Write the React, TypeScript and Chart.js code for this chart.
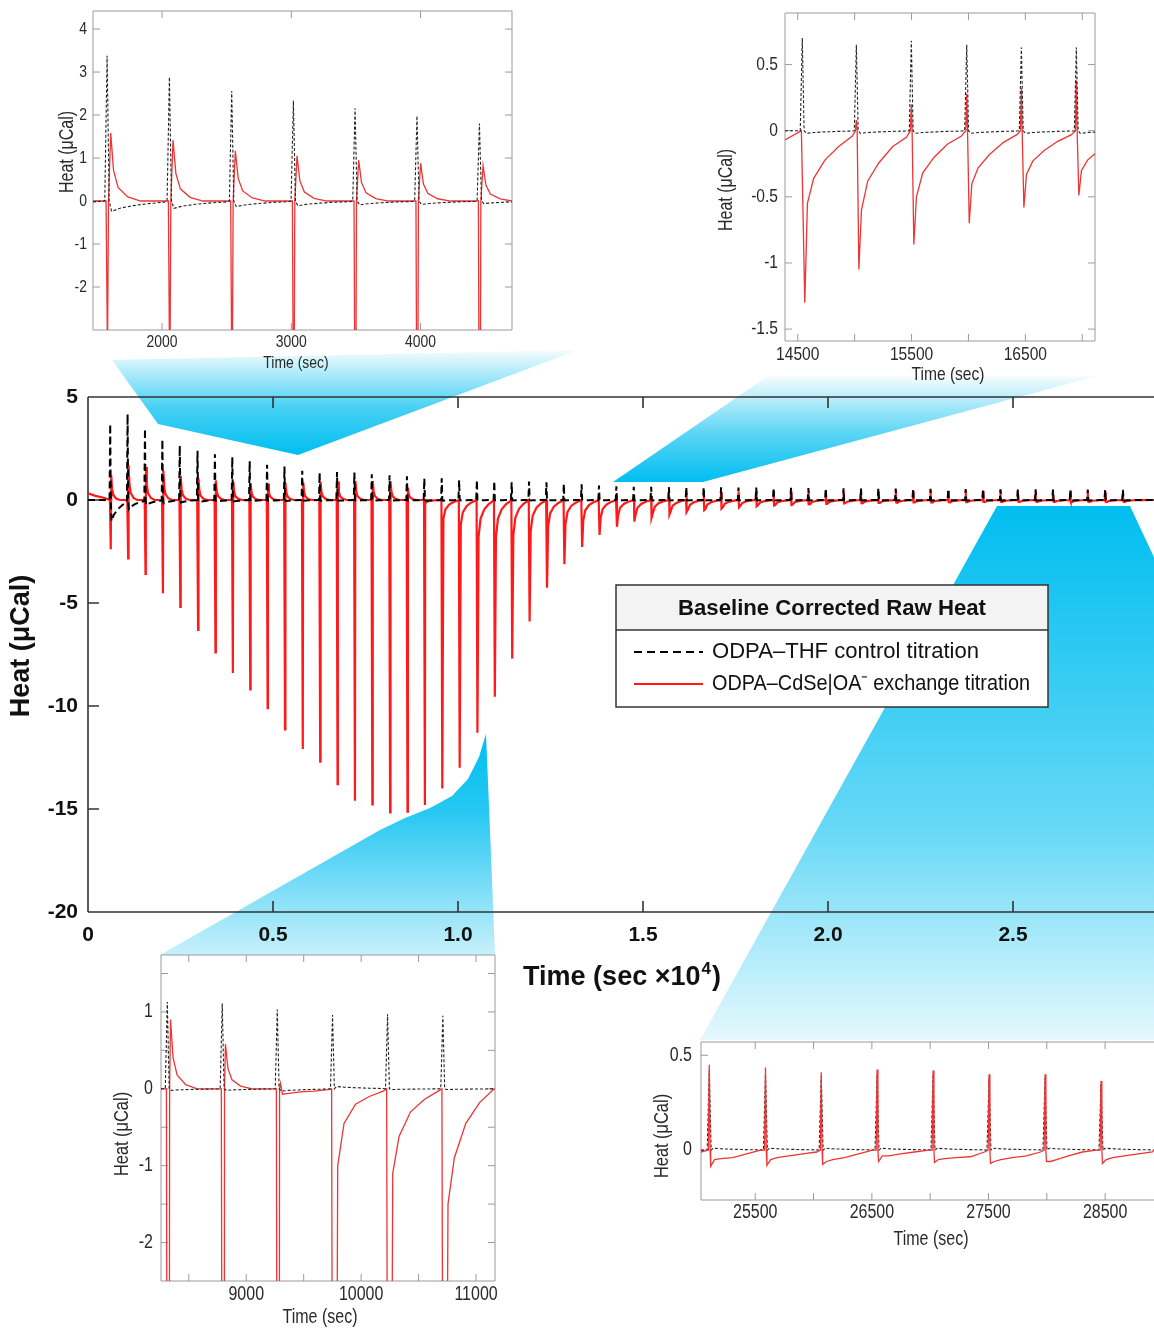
import React, { useEffect, useRef } from "react";
import { Chart, registerables } from "chart.js";

Chart.register(...registerables);

// ================= MAIN CHART DATA (time in sec x10^4, heat in µCal) =================
const MAIN_INJ_T = [
  0.060, 0.107, 0.154, 0.201, 0.248, 0.296, 0.343, 0.390, 0.437, 0.484,
  0.531, 0.579, 0.626, 0.673, 0.720, 0.767, 0.815, 0.862, 0.909, 0.956,
  1.003, 1.051, 1.098, 1.145, 1.192, 1.239, 1.286, 1.334, 1.381, 1.428,
  1.475, 1.522, 1.570, 1.617, 1.664, 1.711, 1.758, 1.806, 1.853, 1.900,
  1.947, 1.994, 2.042, 2.089, 2.136, 2.183, 2.230, 2.277, 2.325, 2.372,
  2.419, 2.466, 2.513, 2.561, 2.608, 2.655, 2.702, 2.749, 2.797,
];
const MAIN_BLACK_PEAK = [
  3.69, 4.17, 3.46, 2.94, 2.64, 2.39, 2.22, 2.09, 1.89, 1.71,
  1.62, 1.42, 1.33, 1.36, 1.33, 1.25, 1.20, 1.15, 1.05, 1.05,
  0.96, 0.97, 0.92, 0.86, 0.90, 0.86, 0.79, 0.76, 0.70, 0.66,
  0.64, 0.64, 0.63, 0.63, 0.62, 0.62, 0.61, 0.60, 0.60, 0.59,
  0.58, 0.57, 0.57, 0.56, 0.56, 0.55, 0.55, 0.54, 0.54, 0.53,
  0.53, 0.52, 0.52, 0.52, 0.51, 0.51, 0.51, 0.50, 0.49,
];
const MAIN_BLACK_DIP = [
  -1.02, -0.45, -0.25, -0.16, -0.12, -0.10, -0.08, -0.07, -0.06, -0.05,
  -0.05, -0.04, -0.04, -0.04, -0.04, -0.03, -0.03, -0.03, -0.03, -0.03,
  -0.02, -0.02, -0.02, -0.02, -0.02, -0.02, -0.02, -0.02, -0.02, -0.02,
  -0.02, -0.02, -0.02, -0.02, -0.02, -0.02, -0.02, -0.02, -0.02, -0.02,
  -0.02, -0.02, -0.02, -0.02, -0.02, -0.02, -0.02, -0.02, -0.02, -0.02,
  -0.02, -0.02, -0.02, -0.02, -0.02, -0.02, -0.02, -0.02, -0.02,
];
const MAIN_RED_TROUGH = [
  -2.39, -2.83, -3.59, -4.53, -5.19, -6.30, -7.40, -8.40, -9.20, -10.10,
  -11.13, -12.09, -12.70, -13.79, -14.60, -14.78, -15.17, -15.13, -14.81, -14.00,
  -13.00, -11.30, -9.55, -7.70, -5.90, -4.26, -3.12, -2.28, -1.70, -1.30,
  -1.05, -0.86, -0.70, -0.58, -0.49, -0.42, -0.36, -0.31, -0.27, -0.24,
  -0.21, -0.19, -0.17, -0.15, -0.14, -0.13, -0.12, -0.11, -0.10, -0.10,
  -0.09, -0.09, -0.08, -0.08, -0.08, -0.08, -0.08, -0.08, -0.08,
];
const MAIN_RED_LOBE = [
  1.20, 1.70, 1.60, 1.42, 1.17, 1.05, 0.95, 0.88, 0.82, 0.80,
  0.82, 0.85, 0.88, 0.90, 0.92, 0.92, 0.90, 0.60, 0.05, 0,
  0, 0, 0, 0, 0, 0, 0, 0, 0, 0,
  0, 0, 0, 0, 0, 0, 0, 0, 0, 0,
  0, 0, 0, 0, 0, 0, 0, 0, 0, 0,
  0, 0, 0, 0, 0, 0, 0, 0, 0,
];
const MAIN_RED_SPIKE = [
  0, 0, 0, 0, 0, 0, 0, 0, 0, 0,
  0, 0, 0, 0, 0, 0, 0, 0, 0, 0,
  0, 0, 0, 0, 0, 0, 0, 0, 0, 0,
  0.08, 0.20, 0.28, 0.32, 0.38, 0.40, 0.42, 0.43, 0.44, 0.44,
  0.44, 0.45, 0.45, 0.45, 0.45, 0.45, 0.44, 0.44, 0.44, 0.44,
  0.45, 0.45, 0.44, 0.43, 0.42, 0.42, 0.40, 0.40, 0.36,
];
// slow recovery of the exchange heat, value ~100 s after each injection
const MAIN_RED_TAIL = [
  0, 0, 0, 0, 0, 0, 0, 0, 0, 0,
  0, 0, 0, 0, 0, 0, 0, 0, -0.06, -0.45,
  -0.60, -0.90, -0.90, -0.85, -0.75, -0.65, -0.58, -0.50, -0.44, -0.38,
  -0.38, -0.32, -0.28, -0.23, -0.22, -0.18, -0.15, -0.13, -0.12, -0.11,
  -0.10, -0.09, -0.08, -0.08, -0.07, -0.07, -0.06, -0.06, -0.06, -0.05,
  -0.05, -0.05, -0.05, -0.05, -0.05, -0.05, -0.05, -0.05, -0.05,
];
const MAIN_RED_LEAD_T = [0, 0.02, 0.045];
const MAIN_RED_LEAD_V = [0.32, 0.2, 0.1];
const MAIN_X_MIN = 0;
const MAIN_X_MAX = 2.881;
const MAIN_Y_MIN = -20;
const MAIN_Y_MAX = 5;
const MAIN_X_TICKS = [0, 0.5, 1, 1.5, 2, 2.5];
const MAIN_X_LABELS = ["0", "0.5", "1.0", "1.5", "2.0", "2.5"];
const MAIN_Y_TICKS = [-20, -15, -10, -5, 0, 5];
const MAIN_Y_LABELS = ["-20", "-15", "-10", "-5", "0", "5"];

// shape of one injection (seconds after injection, relative amount)
const BLACK_DIP_SEC = [35, 100, 200, 320, 440];
const BLACK_DIP_FRAC = [1, 0.7, 0.45, 0.25, 0.12];
const RED_LOBE_SEC = [28, 50, 85, 160, 260];
const RED_LOBE_FRAC = [1, 0.45, 0.2, 0.06, 0];
const TAIL_SEC = [45, 100, 200, 320, 440];
const TAIL_FRAC = [2.0, 1, 0.5, 0.22, 0.05];

// ================= INSET: 1500-4700 s =================
const TL_X = [1466, 4707];
const TL_Y = [-3, 4.42];
const TL_T = [1575, 2057, 2539, 3016, 3493, 3972, 4455];
const TL_BLACK_PEAK = [3.38, 2.88, 2.56, 2.33, 2.16, 1.98, 1.8];
const TL_BLACK_DIP = [-0.24, -0.17, -0.13, -0.11, -0.09, -0.08, -0.06];
const TL_RED_TROUGH = [-3.59, -4.53, -5.19, -6.3, -7.4, -8.4, -9.2];
const TL_RED_LOBE = [1.58, 1.42, 1.17, 1.05, 0.95, 0.88, 0.82];
const TL_X_TICKS = [2000, 3000, 4000];
const TL_X_LABELS = ["2000", "3000", "4000"];
const TL_Y_TICKS = [-2, -1, 0, 1, 2, 3, 4];
const TL_Y_LABELS = ["-2", "-1", "0", "1", "2", "3", "4"];

// ================= INSET: 14400-17100 s =================
const TR_X = [14388, 17112];
const TR_Y = [-1.59, 0.89];
const TR_T = [14540, 15015, 15498, 15985, 16465, 16948];
const TR_BLACK_PEAK = [0.7, 0.65, 0.68, 0.65, 0.63, 0.63];
const TR_BLACK_DIP = [-0.02, -0.02, -0.02, -0.02, -0.02, -0.02];
const TR_RED_SPIKE = [0.0, 0.08, 0.2, 0.28, 0.32, 0.38];
const TR_RED_TROUGH = [-1.3, -1.05, -0.86, -0.7, -0.58, -0.49];
const TR_RED_TAIL = [
  [-0.55, -0.36, -0.22, -0.12, -0.04],
  [-0.6, -0.38, -0.24, -0.12, -0.05],
  [-0.5, -0.32, -0.2, -0.1, -0.04],
  [-0.4, -0.28, -0.18, -0.09, -0.03],
  [-0.33, -0.23, -0.15, -0.08, -0.03],
  [-0.3, -0.22, -0.15, -0.08, -0.03],
];
const TR_X_TICKS = [14500, 15000, 15500, 16000, 16500, 17000];
const TR_X_LABELS = ["14500", "", "15500", "", "16500", ""];
const TR_Y_TICKS = [-1.5, -1, -0.5, 0, 0.5];
const TR_Y_LABELS = ["-1.5", "-1", "-0.5", "0", "0.5"];

// ================= INSET: 8300-11100 s =================
const BL_X = [8258, 11165];
const BL_Y = [-2.5, 1.74];
const BL_T = [8313, 8791, 9270, 9751, 10230, 10711];
const BL_BLACK_PEAK = [1.13, 1.11, 1.03, 0.96, 0.97, 0.95];
const BL_BLACK_DIP = [-0.02, -0.02, -0.03, 0.03, -0.01, -0.01];
const BL_RED_TROUGH = [-15.17, -15.13, -14.81, -14.0, -13.0, -11.3];
const BL_RED_LOBE = [0.9, 0.58, 0.07, 0, 0, 0];
const BL_RED_TAIL = [
  [],
  [],
  [-0.07, -0.06, -0.04, -0.03, -0.01],
  [-1.0, -0.45, -0.2, -0.1, -0.03],
  [-1.1, -0.62, -0.3, -0.14, -0.03],
  [-1.5, -0.9, -0.45, -0.18, -0.01],
];
const BL_X_TICKS = [8500, 9000, 9500, 10000, 10500, 11000];
const BL_X_LABELS = ["", "9000", "", "10000", "", "11000"];
const BL_Y_TICKS = [-2, -1.5, -1, -0.5, 0, 0.5, 1, 1.5];
const BL_Y_LABELS = ["-2", "", "-1", "", "0", "", "1", ""];

// ================= INSET: 25000-28900 s =================
const BR_X = [25035, 28919];
const BR_Y = [-0.263, 0.57];
const BR_T = [25106, 25588, 26066, 26545, 27025, 27505, 27985, 28465];
const BR_BLACK_PEAK = [0.42, 0.4, 0.39, 0.4, 0.4, 0.38, 0.38, 0.35];
const BR_BLACK_DIP = [0.01, 0.01, 0.01, 0.01, 0.01, 0.01, 0.01, 0.01];
const BR_RED_SPIKE = [0.45, 0.435, 0.41, 0.425, 0.42, 0.4, 0.4, 0.365];
const BR_RED_TROUGH = [-0.085, -0.08, -0.075, -0.06, -0.065, -0.07, -0.06, -0.07];
const BR_RED_TAIL = [
  [-0.05, -0.045, -0.04, -0.02, 0.0],
  [-0.05, -0.04, -0.03, -0.02, -0.01],
  [-0.06, -0.05, -0.04, -0.02, 0.0],
  [-0.03, -0.03, -0.02, -0.01, 0.0],
  [-0.05, -0.045, -0.04, -0.035, -0.01],
  [-0.06, -0.05, -0.04, -0.03, -0.01],
  [-0.06, -0.05, -0.03, -0.01, 0.0],
  [-0.05, -0.04, -0.03, -0.02, -0.01],
];
const BR_X_TICKS = [25500, 26000, 26500, 27000, 27500, 28000, 28500];
const BR_X_LABELS = ["25500", "", "26500", "", "27500", "", "28500"];
const BR_Y_TICKS = [0, 0.5];
const BR_Y_LABELS = ["0", "0.5"];

// ================= TEXT =================
const LEGEND_TITLE = "Baseline Corrected Raw Heat";
const SERIES_CONTROL = "ODPA\u2013THF control titration";
const SERIES_EXCHANGE = "ODPA\u2013CdSe|OA\u207B exchange titration";
const HEAT_LABEL = "Heat (\u03BCCal)";
const MAIN_TIME_LABEL = "Time (sec \u00D710\u2074)";
const MAIN_TIME_BASE = "Time (sec \u00D710";
const MAIN_TIME_EXP = "4";
const MAIN_TIME_CLOSE = ")";
const INSET_TIME_LABEL = "Time (sec)";

// ================= STYLE =================
const SANS = '"Liberation Sans", Arial, Helvetica, sans-serif';
const RED_MAIN = "#ff1a1a";
const RED_INSET = "rgb(238,52,52)";

type Pt = { x: number; y: number };

function buildBlack(times: number[], peaks: number[], dips: number[], unit: number, xMin: number, xMax: number, startY: number): Pt[] {
  const pts: Pt[] = [{ x: xMin, y: startY }];
  times.forEach((t, i) => {
    pts.push({ x: t - 18 / unit, y: 0 });
    pts.push({ x: t, y: peaks[i] });
    pts.push({ x: t + 16 / unit, y: 0 });
    BLACK_DIP_SEC.forEach((s, j) => pts.push({ x: t + s / unit, y: dips[i] * BLACK_DIP_FRAC[j] }));
  });
  pts.push({ x: xMax, y: 0 });
  return pts;
}

function buildRed(o: {
  times: number[]; trough: number[]; lobe?: number[]; spike?: number[]; tail?: number[][];
  unit: number; leadT: number[]; leadV: number[]; xMax: number; troughSec: number;
}): Pt[] {
  const { unit } = o;
  const pts: Pt[] = o.leadT.map((x, i) => ({ x, y: o.leadV[i] }));
  o.times.forEach((t, i) => {
    const sp = o.spike ? o.spike[i] : 0;
    const lb = o.lobe ? o.lobe[i] : 0;
    const tl = o.tail ? o.tail[i] : [];
    pts.push({ x: t - 8 / unit, y: 0 });
    if (sp > 0) {
      pts.push({ x: t, y: sp });
      pts.push({ x: t + 7 / unit, y: 0 });
    }
    pts.push({ x: t + o.troughSec / unit, y: o.trough[i] });
    if (lb > 0) {
      pts.push({ x: t + (o.troughSec + 8) / unit, y: 0 });
      RED_LOBE_SEC.forEach((s, j) => {
        if (!tl.length || s < TAIL_SEC[0]) pts.push({ x: t + s / unit, y: lb * RED_LOBE_FRAC[j] });
      });
    }
    if (tl.length) TAIL_SEC.forEach((s, j) => pts.push({ x: t + s / unit, y: tl[j] }));
    else if (lb <= 0) pts.push({ x: t + (o.troughSec + 10) / unit, y: 0 });
  });
  pts.push({ x: o.xMax, y: 0 });
  return pts;
}

function blackDs(data: Pt[], main: boolean) {
  return {
    label: SERIES_CONTROL,
    data,
    borderColor: main ? "#000000" : "#222222",
    borderWidth: main ? 2 : 1.1,
    borderDash: main ? [7, 4] : [3, 2],
    pointRadius: 0,
    fill: false,
    tension: 0,
    legendDash: [8, 5],
  };
}
function redDs(data: Pt[], main: boolean) {
  return {
    label: SERIES_EXCHANGE,
    data,
    borderColor: main ? RED_MAIN : RED_INSET,
    borderWidth: main ? 2.2 : 1.3,
    borderDash: [],
    pointRadius: 0,
    fill: false,
    tension: 0,
    legendDash: [],
  };
}

// ---------- datasets ----------
const mainBlack = buildBlack(MAIN_INJ_T, MAIN_BLACK_PEAK, MAIN_BLACK_DIP, 1e4, MAIN_X_MIN, MAIN_X_MAX, 0);
const mainRed = buildRed({
  times: MAIN_INJ_T, trough: MAIN_RED_TROUGH, lobe: MAIN_RED_LOBE, spike: MAIN_RED_SPIKE,
  tail: MAIN_RED_TAIL.map((v) => (v === 0 ? [] : TAIL_FRAC.map((f) => v * f))),
  unit: 1e4, leadT: MAIN_RED_LEAD_T, leadV: MAIN_RED_LEAD_V, xMax: MAIN_X_MAX, troughSec: 15,
});
const tlBlack = buildBlack(TL_T, TL_BLACK_PEAK, TL_BLACK_DIP, 1, TL_X[0], TL_X[1], -0.02);
const tlRed = buildRed({ times: TL_T, trough: TL_RED_TROUGH, lobe: TL_RED_LOBE, unit: 1, leadT: [TL_X[0]], leadV: [0], xMax: TL_X[1], troughSec: 3 });
const trBlack = buildBlack(TR_T, TR_BLACK_PEAK, TR_BLACK_DIP, 1, TR_X[0], TR_X[1], 0);
const trRed = buildRed({ times: TR_T, trough: TR_RED_TROUGH, spike: TR_RED_SPIKE, tail: TR_RED_TAIL, unit: 1, leadT: [TR_X[0]], leadV: [-0.07], xMax: TR_X[1], troughSec: 22 });
const blBlack = buildBlack(BL_T, BL_BLACK_PEAK, BL_BLACK_DIP, 1, BL_X[0], BL_X[1], 0);
const blRed = buildRed({ times: BL_T, trough: BL_RED_TROUGH, lobe: BL_RED_LOBE, tail: BL_RED_TAIL, unit: 1, leadT: [BL_X[0]], leadV: [0], xMax: BL_X[1], troughSec: 12 });
const brBlack = buildBlack(BR_T, BR_BLACK_PEAK, BR_BLACK_DIP, 1, BR_X[0], BR_X[1], 0);
const brRed = buildRed({ times: BR_T, trough: BR_RED_TROUGH, spike: BR_RED_SPIKE, tail: BR_RED_TAIL, unit: 1, leadT: [BR_X[0]], leadV: [-0.01], xMax: BR_X[1], troughSec: 12 });

// ---------- decoration ----------
const CYAN = "0,190,240";
function gradientFill(ctx: CanvasRenderingContext2D, y0: number, y1: number, stops: [number, number][]) {
  const g = ctx.createLinearGradient(0, y0, 0, y1);
  stops.forEach(([p, a]) => g.addColorStop(p, `rgba(${CYAN},${a})`));
  ctx.fillStyle = g;
}
function poly(ctx: CanvasRenderingContext2D, p: number[][]) {
  ctx.beginPath();
  ctx.moveTo(p[0][0], p[0][1]);
  for (let i = 1; i < p.length; i++) ctx.lineTo(p[i][0], p[i][1]);
  ctx.closePath();
}
function drawCallouts(ctx: CanvasRenderingContext2D) {
  ctx.save();
  gradientFill(ctx, 455, 350, [[0, 1], [0.45, 0.72], [1, 0.04]]);
  poly(ctx, [[112, 360], [578, 350], [298, 455], [158, 424]]);
  ctx.fill();
  gradientFill(ctx, 482, 376, [[0, 1], [0.45, 0.65], [1, 0.04]]);
  poly(ctx, [[768, 376], [1097, 376], [703, 482], [613, 482]]);
  ctx.fill();
  gradientFill(ctx, 734, 955, [[0, 1], [0.35, 0.85], [1, 0.22]]);
  poly(ctx, [[160, 955], [380, 830], [405, 818], [430, 808], [452, 796], [468, 779], [479, 757], [486, 734], [490, 830], [495, 955]]);
  ctx.fill();
  gradientFill(ctx, 506, 1040, [[0, 1], [0.6, 0.6], [1, 0.1]]);
  poly(ctx, [[997, 506], [1130, 506], [1160, 570], [1160, 1040], [700, 1040]]);
  ctx.fill();
  ctx.restore();
}

function fitText(ctx: CanvasRenderingContext2D, text: string, x: number, y: number, target: number) {
  const w = ctx.measureText(text).width;
  const sx = Math.max(0.75, Math.min(1.2, target / w));
  ctx.save();
  ctx.translate(x, y);
  ctx.scale(sx, 1);
  ctx.fillText(text, 0, 0);
  ctx.restore();
}

// condensed text (the figure's lettering is narrow)
function condText(ctx: CanvasRenderingContext2D, text: string, x: number, y: number, size: number, k: number, align: CanvasTextAlign, rotate: boolean, color: string) {
  if (!text) return;
  ctx.save();
  ctx.font = `${size}px ${SANS}`;
  ctx.fillStyle = color;
  ctx.textAlign = align;
  ctx.textBaseline = "middle";
  ctx.translate(x, y);
  if (rotate) ctx.rotate(-Math.PI / 2);
  ctx.scale(k, 1);
  ctx.fillText(text, 0, 0);
  ctx.restore();
}

function drawMainTitles(ctx: CanvasRenderingContext2D, color: string) {
  ctx.save();
  ctx.fillStyle = color;
  ctx.textBaseline = "alphabetic";
  ctx.textAlign = "left";
  const big = `bold 27px ${SANS}`;
  const small = `bold 17px ${SANS}`;
  ctx.font = big;
  const w1 = ctx.measureText(MAIN_TIME_BASE).width;
  const w3 = ctx.measureText(MAIN_TIME_CLOSE).width;
  ctx.font = small;
  const w2 = ctx.measureText(MAIN_TIME_EXP).width + 2;
  let x = 622 - (w1 + w2 + w3) / 2;
  const yb = 985;
  ctx.font = big;
  ctx.fillText(MAIN_TIME_BASE, x, yb);
  x += w1;
  ctx.font = small;
  ctx.fillText(MAIN_TIME_EXP, x + 1, yb - 11);
  x += w2;
  ctx.font = big;
  ctx.fillText(MAIN_TIME_CLOSE, x, yb);
  // y title
  ctx.translate(22, 646);
  ctx.rotate(-Math.PI / 2);
  ctx.textAlign = "center";
  ctx.textBaseline = "middle";
  ctx.font = big;
  ctx.fillText(HEAT_LABEL, 0, 0);
  ctx.restore();
}

function drawLegend(chart: any) {
  const ctx: CanvasRenderingContext2D = chart.ctx;
  const L = 616, T = 585, R = 1048, B = 707, H1 = 630;
  ctx.save();
  ctx.setLineDash([]);
  ctx.fillStyle = "#ffffff";
  ctx.fillRect(L, T, R - L, B - T);
  ctx.fillStyle = "#f3f3f3";
  ctx.fillRect(L, T, R - L, H1 - T);
  ctx.strokeStyle = "#333333";
  ctx.lineWidth = 1.5;
  ctx.strokeRect(L, T, R - L, B - T);
  ctx.beginPath();
  ctx.moveTo(L, H1);
  ctx.lineTo(R, H1);
  ctx.stroke();
  ctx.fillStyle = "#111111";
  ctx.textBaseline = "middle";
  ctx.textAlign = "left";
  ctx.font = `bold 22px ${SANS}`;
  fitText(ctx, LEGEND_TITLE, 678, 609, 308);
  const rows = [652, 684];
  const widths = [267, 318];
  chart.data.datasets.forEach((ds: any, i: number) => {
    const y = rows[i];
    ctx.strokeStyle = ds.borderColor;
    ctx.lineWidth = 2;
    ctx.setLineDash(ds.legendDash);
    ctx.beginPath();
    ctx.moveTo(634, y);
    ctx.lineTo(703, y);
    ctx.stroke();
    ctx.setLineDash([]);
    ctx.fillStyle = "#111111";
    ctx.font = `22px ${SANS}`;
    fitText(ctx, ds.label, 712, y, widths[i]);
  });
  ctx.restore();
}

// ---------- panel spec ----------
type Manual = {
  k: number; tickSize: number; xTitleSize: number; yTitleSize: number;
  xLabelY: number; yLabelR: number; xTitleX: number; xTitleY: number; yTitleX: number; yTitleY: number;
};
type Spec = {
  rect: { l: number; t: number; w: number; h: number };
  area: { l: number; t: number; r: number; b: number };
  x: { min: number; max: number; ticks: number[]; labels: string[]; pad: number; title: string };
  y: { min: number; max: number; ticks: number[]; labels: string[]; pad: number; title: string };
  tickFont: any; textColor: string;
  frame: { color: string; width: number; sides: string; tickLen: number; tickSides: string };
  datasets: any[];
  manual?: Manual;
  main?: boolean;
  fillArea?: boolean;
};

function buildConfig(s: Spec) {
  const ax = { l: s.area.l - s.rect.l, t: s.area.t - s.rect.t, r: s.area.r - s.rect.l, b: s.area.b - s.rect.t };
  const builtInTicks = !s.manual;
  const decor = {
    id: "decor",
    beforeDraw(chart: any) {
      const ctx: CanvasRenderingContext2D = chart.ctx;
      const a = chart.chartArea;
      ctx.save();
      if (s.main) drawCallouts(ctx);
      if (s.fillArea) {
        ctx.fillStyle = "#ffffff";
        ctx.fillRect(a.left, a.top, a.right - a.left, a.bottom - a.top);
      }
      ctx.strokeStyle = s.frame.color;
      ctx.lineWidth = s.frame.width;
      ctx.setLineDash([]);
      ctx.beginPath();
      const f = s.frame.sides;
      if (f.includes("l")) { ctx.moveTo(a.left, a.top); ctx.lineTo(a.left, a.bottom); }
      if (f.includes("r")) { ctx.moveTo(a.right, a.top); ctx.lineTo(a.right, a.bottom); }
      if (f.includes("t")) { ctx.moveTo(a.left, a.top); ctx.lineTo(a.right, a.top); }
      if (f.includes("b")) { ctx.moveTo(a.left, a.bottom); ctx.lineTo(a.right, a.bottom); }
      ctx.stroke();
      const xs = chart.scales.x, ys = chart.scales.y;
      const L = s.frame.tickLen;
      const ts = s.frame.tickSides;
      ctx.beginPath();
      xs.ticks.forEach((tk: any) => {
        const px = xs.getPixelForValue(tk.value);
        if (px < a.left + 1 || px > a.right - 1) return;
        if (ts.includes("b")) { ctx.moveTo(px, a.bottom); ctx.lineTo(px, a.bottom - L); }
        if (ts.includes("t")) { ctx.moveTo(px, a.top); ctx.lineTo(px, a.top + L); }
      });
      ys.ticks.forEach((tk: any) => {
        const py = ys.getPixelForValue(tk.value);
        if (py < a.top + 1 || py > a.bottom - 1) return;
        if (ts.includes("l")) { ctx.moveTo(a.left, py); ctx.lineTo(a.left + L, py); }
        if (ts.includes("r")) { ctx.moveTo(a.right, py); ctx.lineTo(a.right - L, py); }
      });
      ctx.stroke();
      ctx.restore();
    },
    afterDraw(chart: any) {
      const ctx: CanvasRenderingContext2D = chart.ctx;
      if (s.manual) {
        const m = s.manual;
        const ox = s.rect.l, oy = s.rect.t;
        const xs = chart.scales.x, ys = chart.scales.y;
        xs.ticks.forEach((tk: any, i: number) => {
          condText(ctx, s.x.labels[i], xs.getPixelForValue(tk.value), m.xLabelY - oy, m.tickSize, m.k, "center", false, s.textColor);
        });
        ys.ticks.forEach((tk: any, i: number) => {
          condText(ctx, s.y.labels[i], m.yLabelR - ox, ys.getPixelForValue(tk.value), m.tickSize, m.k, "right", false, s.textColor);
        });
        condText(ctx, s.x.title, m.xTitleX - ox, m.xTitleY - oy, m.xTitleSize, m.k, "center", false, s.textColor);
        condText(ctx, s.y.title, m.yTitleX - ox, m.yTitleY - oy, m.yTitleSize, m.k, "center", true, s.textColor);
      }
      if (s.main) {
        drawMainTitles(ctx, s.textColor);
        drawLegend(chart);
      }
    },
  };
  return {
    type: "line",
    data: { datasets: s.datasets },
    options: {
      animation: false,
      responsive: false,
      maintainAspectRatio: false,
      devicePixelRatio: 1,
      events: [],
      parsing: false,
      layout: { padding: { left: 0, top: ax.t, right: s.rect.w - ax.r, bottom: 0 } },
      plugins: { legend: { display: false }, tooltip: { enabled: false }, title: { display: false } },
      elements: { point: { radius: 0 }, line: { tension: 0 } },
      scales: {
        x: {
          type: "linear",
          min: s.x.min,
          max: s.x.max,
          afterBuildTicks: (sc: any) => { sc.ticks = s.x.ticks.map((v) => ({ value: v })); },
          afterFit: (sc: any) => { sc.height = s.rect.h - ax.b; },
          grid: { display: false, drawTicks: false, tickLength: 0 },
          border: { display: false },
          ticks: {
            display: builtInTicks,
            autoSkip: false, maxRotation: 0, minRotation: 0, padding: s.x.pad,
            color: s.textColor, font: s.tickFont,
            callback: (_v: any, i: number) => s.x.labels[i],
          },
          title: { display: false, text: s.x.title },
        },
        y: {
          type: "linear",
          min: s.y.min,
          max: s.y.max,
          afterBuildTicks: (sc: any) => { sc.ticks = s.y.ticks.map((v) => ({ value: v })); },
          afterFit: (sc: any) => { sc.width = ax.l; },
          grid: { display: false, drawTicks: false, tickLength: 0 },
          border: { display: false },
          ticks: {
            display: builtInTicks,
            autoSkip: false, padding: s.y.pad, color: s.textColor, font: s.tickFont,
            callback: (_v: any, i: number) => s.y.labels[i],
          },
          title: { display: false, text: s.y.title },
        },
      },
    },
    plugins: [decor],
  };
}

const INSET_FRAME = { color: "#9a9a9a", width: 1, tickLen: 7 };
const INSET_TEXT = "#2a2a2a";
const COND = 0.82;

const PANELS: Spec[] = [
  {
    rect: { l: 0, t: 0, w: 1154, h: 1328 },
    area: { l: 88, t: 397, r: 1154, b: 912 },
    x: { min: MAIN_X_MIN, max: MAIN_X_MAX, ticks: MAIN_X_TICKS, labels: MAIN_X_LABELS, pad: 11, title: MAIN_TIME_LABEL },
    y: { min: MAIN_Y_MIN, max: MAIN_Y_MAX, ticks: MAIN_Y_TICKS, labels: MAIN_Y_LABELS, pad: 10, title: HEAT_LABEL },
    tickFont: { family: SANS, size: 21, weight: "bold" },
    textColor: "#111111",
    frame: { color: "#333333", width: 1.6, sides: "ltb", tickLen: 11, tickSides: "ltb" },
    datasets: [blackDs(mainBlack, true), redDs(mainRed, true)],
    main: true,
  },
  {
    rect: { l: 50, t: 0, w: 470, h: 380 },
    area: { l: 93, t: 11, r: 512, b: 330 },
    x: { min: TL_X[0], max: TL_X[1], ticks: TL_X_TICKS, labels: TL_X_LABELS, pad: 2, title: INSET_TIME_LABEL },
    y: { min: TL_Y[0], max: TL_Y[1], ticks: TL_Y_TICKS, labels: TL_Y_LABELS, pad: 6, title: HEAT_LABEL },
    tickFont: { family: SANS, size: 16 },
    textColor: INSET_TEXT,
    frame: { ...INSET_FRAME, sides: "ltrb", tickSides: "ltrb" },
    datasets: [blackDs(tlBlack, false), redDs(tlRed, false)],
    manual: { k: COND, tickSize: 17, xTitleSize: 17, yTitleSize: 19.5, xLabelY: 342, yLabelR: 87, xTitleX: 296, xTitleY: 363, yTitleX: 68, yTitleY: 152 },
    fillArea: true,
  },
  {
    rect: { l: 705, t: 0, w: 400, h: 392 },
    area: { l: 785, t: 13, r: 1095, b: 341 },
    x: { min: TR_X[0], max: TR_X[1], ticks: TR_X_TICKS, labels: TR_X_LABELS, pad: 4, title: INSET_TIME_LABEL },
    y: { min: TR_Y[0], max: TR_Y[1], ticks: TR_Y_TICKS, labels: TR_Y_LABELS, pad: 7, title: HEAT_LABEL },
    tickFont: { family: SANS, size: 18 },
    textColor: INSET_TEXT,
    frame: { ...INSET_FRAME, sides: "ltrb", tickSides: "ltrb" },
    datasets: [blackDs(trBlack, false), redDs(trRed, false)],
    manual: { k: COND, tickSize: 19, xTitleSize: 19, yTitleSize: 19.5, xLabelY: 355, yLabelR: 778, xTitleX: 948, xTitleY: 375, yTitleX: 727, yTitleY: 190 },
    fillArea: true,
  },
  {
    rect: { l: 100, t: 950, w: 405, h: 378 },
    area: { l: 161, t: 955, r: 495, b: 1281 },
    x: { min: BL_X[0], max: BL_X[1], ticks: BL_X_TICKS, labels: BL_X_LABELS, pad: 3, title: INSET_TIME_LABEL },
    y: { min: BL_Y[0], max: BL_Y[1], ticks: BL_Y_TICKS, labels: BL_Y_LABELS, pad: 8, title: HEAT_LABEL },
    tickFont: { family: SANS, size: 19 },
    textColor: INSET_TEXT,
    frame: { ...INSET_FRAME, sides: "ltrb", tickSides: "ltrb" },
    datasets: [blackDs(blBlack, false), redDs(blRed, false)],
    manual: { k: COND, tickSize: 19.5, xTitleSize: 19.5, yTitleSize: 20, xLabelY: 1295, yLabelR: 153, xTitleX: 320, xTitleY: 1318, yTitleX: 122, yTitleY: 1134 },
    fillArea: true,
  },
  {
    rect: { l: 640, t: 1036, w: 514, h: 220 },
    area: { l: 701, t: 1042, r: 1154, b: 1200 },
    x: { min: BR_X[0], max: BR_X[1], ticks: BR_X_TICKS, labels: BR_X_LABELS, pad: 3, title: INSET_TIME_LABEL },
    y: { min: BR_Y[0], max: BR_Y[1], ticks: BR_Y_TICKS, labels: BR_Y_LABELS, pad: 9, title: HEAT_LABEL },
    tickFont: { family: SANS, size: 19 },
    textColor: INSET_TEXT,
    frame: { ...INSET_FRAME, sides: "ltb", tickSides: "ltb" },
    datasets: [redDs(brRed, false), blackDs(brBlack, false)],
    manual: { k: COND, tickSize: 19.5, xTitleSize: 19.5, yTitleSize: 20, xLabelY: 1213, yLabelR: 692, xTitleX: 931, xTitleY: 1240, yTitleX: 662, yTitleY: 1136 },
    fillArea: true,
  },
];

function Panel({ spec }: { spec: Spec }) {
  const ref = useRef<HTMLCanvasElement | null>(null);
  useEffect(() => {
    if (!ref.current) return;
    const chart = new Chart(ref.current, buildConfig(spec) as any);
    return () => chart.destroy();
  }, [spec]);
  const { l, t, w, h } = spec.rect;
  return (
    <canvas
      ref={ref}
      width={w}
      height={h}
      style={{ position: "absolute", left: l, top: t, width: w, height: h, display: "block" }}
    />
  );
}

export default function App() {
  return (
    <div style={{ position: "absolute", left: 0, top: 0, width: 1154, height: 1328, overflow: "hidden", background: "#ffffff" }}>
      {PANELS.map((p, i) => (
        <Panel key={i} spec={p} />
      ))}
    </div>
  );
}
